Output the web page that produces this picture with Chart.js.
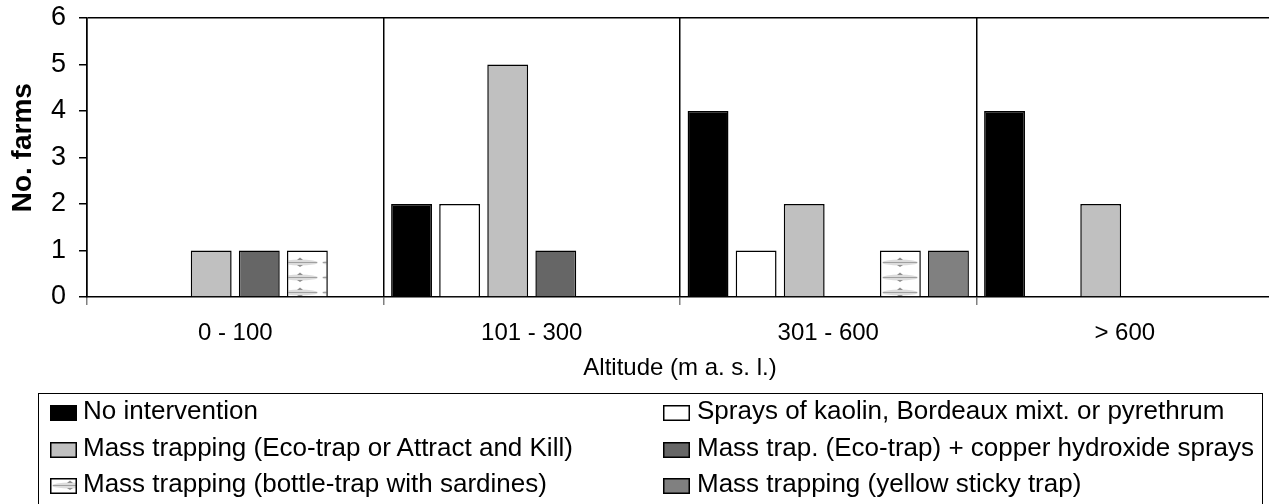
<!DOCTYPE html>
<html><head><meta charset="utf-8">
<script src="https://cdn.jsdelivr.net/npm/chart.js@4"></script>
<style>
html,body{margin:0;padding:0;background:#fff;overflow:hidden;width:1269px;height:504px;}
#wrap{position:absolute;left:0;top:0;width:1273px;height:504px;}
#legendBox{position:absolute;left:38px;top:393px;width:1225px;height:140px;border:1.5px solid #000;box-sizing:border-box;}
.lg-text{position:absolute;height:36px;line-height:36px;white-space:nowrap;font-family:"Liberation Sans",Arial,sans-serif;font-size:26px;color:#000;}
.lg-sw{position:absolute;}
</style></head>
<body>
<div id="wrap"><canvas id="c" width="1273" height="504"></canvas></div>
<div id="legendBox"></div>
<div id="legend"></div>
<script>
const categories = ['0 - 100', '101 - 300', '301 - 600', '> 600'];
const seriesNames = [
  'No intervention',
  'Sprays of kaolin, Bordeaux mixt. or pyrethrum',
  'Mass trapping (Eco-trap or Attract and Kill)',
  'Mass trap. (Eco-trap) + copper hydroxide sprays',
  'Mass trapping (bottle-trap with sardines)',
  'Mass trapping (yellow sticky trap)'
];
const noIntervention     = [0, 2, 4, 4];
const kaolinSprays       = [0, 2, 1, 0];
const massTrapEco        = [1, 5, 2, 2];
const massTrapCopper     = [1, 1, 0, 0];
const bottleTrapSardines = [1, 0, 1, 0];
const yellowStickyTrap   = [0, 0, 1, 0];
const yTicks = [0, 1, 2, 3, 4, 5, 6];

const seriesData = [noIntervention, kaolinSprays, massTrapEco, massTrapCopper, bottleTrapSardines, yellowStickyTrap];
const FONT = '"Liberation Sans", Arial, sans-serif';

function sardineTile(){
  const t = document.createElement('canvas'); t.width = 40; t.height = 15;
  const g = t.getContext('2d');
  g.fillStyle = '#fff'; g.fillRect(0,0,40,15);
  g.fillStyle = '#dcdcdc';
  g.beginPath(); g.ellipse(20, 7.5, 18, 3, 0, 0, Math.PI*2); g.fill();
  g.strokeStyle = '#a0a0a0'; g.lineWidth = 1;
  g.beginPath(); g.moveTo(3, 7.5); g.lineTo(37, 7.5); g.stroke();
  g.fillStyle = '#909090';
  g.beginPath(); g.moveTo(17, 5); g.lineTo(20, 2.5); g.lineTo(23, 5); g.closePath(); g.fill();
  g.beginPath(); g.moveTo(17, 10); g.lineTo(20, 12); g.lineTo(23, 10); g.closePath(); g.fill();
  return t;
}
const tile = sardineTile();
const canvas = document.getElementById('c');
const ctx = canvas.getContext('2d');
const sardinePattern = ctx.createPattern(tile, 'repeat');
const fills = ['#000000', '#ffffff', '#c0c0c0', '#666666', sardinePattern, '#808080'];

Chart.defaults.font.family = FONT;
Chart.defaults.color = '#000';

new Chart(ctx, {
  type: 'bar',
  data: {
    labels: categories,
    datasets: seriesNames.map((n, i) => ({
      label: n,
      data: seriesData[i],
      backgroundColor: fills[i],
      borderColor: '#000',
      borderWidth: 1.5,
      categoryPercentage: 0.973,
      barPercentage: 0.85
    }))
  },
  options: {
    responsive: false,
    animation: false,
    layout: { padding: { left: 6, top: 18, right: 0, bottom: 121.6 } },
    plugins: { legend: { display: false }, tooltip: { enabled: false } },
    scales: {
      x: {
        grid: {
          offset: true,
          color: c => (c.index === undefined ? 'transparent' : '#000'),
          lineWidth: 1.5,
          tickColor: '#808080',
          tickLength: 8
        },
        border: { color: '#000', width: 1.5 },
        ticks: { font: { size: 24 }, color: '#000', padding: 13.6, maxRotation: 0 },
        title: { display: true, text: 'Altitude (m a. s. l.)', font: { size: 24 }, color: '#000', padding: { top: 0, bottom: 0 } },
        afterFit: s => { s.height = 85.4; }
      },
      y: {
        min: 0, max: 6,
        afterBuildTicks: s => { s.ticks = yTicks.map(v => ({ value: v })); },
        ticks: { font: { size: 27 }, color: '#000', padding: 13 },
        grid: {
          color: c => (c.tick && c.tick.value === 6 ? '#000' : 'transparent'),
          tickColor: '#000',
          tickLength: 8,
          lineWidth: 1.5
        },
        border: { color: '#000', width: 1.5 },
        title: { display: true, text: '\u2002\u2009No. farms', font: { size: 28, weight: 'bold' }, color: '#000', padding: { top: 0, bottom: 0 } },
        afterFit: s => { s.width = 81; s.paddingTop = 0; s.paddingBottom = 0; }
      }
    }
  }
});

// HTML legend (two columns) built from the series
const legend = document.getElementById('legend');
const rowCenters = [410, 447, 483];
const colSwatchX = [50, 663];
const colTextX = [83, 697];
seriesNames.forEach((name, i) => {
  const row = Math.floor(i / 2), col = i % 2;
  const yc = rowCenters[row];
  const sw = document.createElement('canvas');
  sw.width = 27; sw.height = 16;
  sw.className = 'lg-sw';
  sw.style.left = colSwatchX[col] + 'px';
  sw.style.top = (yc - 5) + 'px';
  const g = sw.getContext('2d');
  g.fillStyle = i === 4 ? g.createPattern(tile, 'repeat') : fills[i];
  g.fillRect(0, 0, 27, 16);
  g.strokeStyle = '#000'; g.lineWidth = 1.5;
  g.strokeRect(0.75, 0.75, 25.5, 14.5);
  legend.appendChild(sw);
  const t = document.createElement('div');
  t.className = 'lg-text';
  t.textContent = name;
  t.style.left = colTextX[col] + 'px';
  t.style.top = (yc - 18) + 'px';
  legend.appendChild(t);
});
</script>
</body></html>
